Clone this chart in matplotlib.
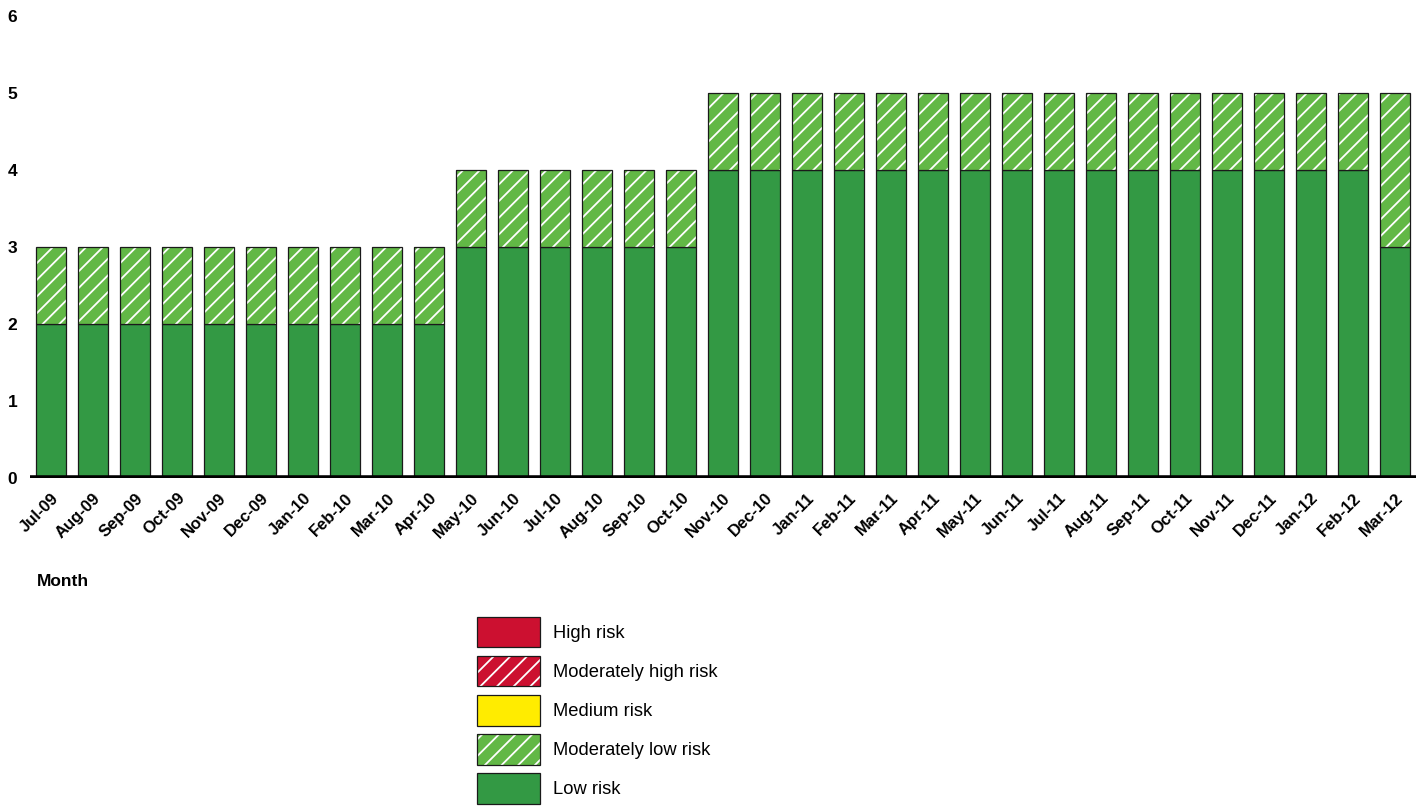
import matplotlib
matplotlib.use("Agg")
import matplotlib.pyplot as plt
from matplotlib.patches import Patch

# month labels, Jul-09 .. Mar-12
months = ["Jul-09", "Aug-09", "Sep-09", "Oct-09", "Nov-09", "Dec-09",
          "Jan-10", "Feb-10", "Mar-10", "Apr-10", "May-10", "Jun-10",
          "Jul-10", "Aug-10", "Sep-10", "Oct-10", "Nov-10", "Dec-10",
          "Jan-11", "Feb-11", "Mar-11", "Apr-11", "May-11", "Jun-11",
          "Jul-11", "Aug-11", "Sep-11", "Oct-11", "Nov-11", "Dec-11",
          "Jan-12", "Feb-12", "Mar-12"]

low_risk = [2, 2, 2, 2, 2, 2, 2, 2, 2, 2,
            3, 3, 3, 3, 3, 3,
            4, 4, 4, 4, 4, 4, 4, 4, 4, 4, 4, 4, 4, 4, 4, 4,
            3]
mod_low_risk = [1, 1, 1, 1, 1, 1, 1, 1, 1, 1,
                1, 1, 1, 1, 1, 1,
                1, 1, 1, 1, 1, 1, 1, 1, 1, 1, 1, 1, 1, 1, 1, 1,
                2]

legend_labels = ["High risk", "Moderately high risk", "Medium risk",
                 "Moderately low risk", "Low risk"]

RED = "#cc1030"
YELLOW = "#ffec00"
LIGHT_GREEN = "#62b846"
GREEN = "#339944"
EDGE = "#1a1a1a"

plt.rcParams["font.family"] = ["Liberation Sans", "DejaVu Sans"]
plt.rcParams["hatch.linewidth"] = 1.3

fig = plt.figure(figsize=(14.2, 8.06), dpi=100)
ax = fig.add_axes([0.0211, 0.407, 0.976, 0.573])

x = list(range(len(months)))
w = 0.71

ax.bar(x, low_risk, width=w, color=GREEN, edgecolor=EDGE, linewidth=0.9, zorder=2)
# hatched segment: white hatch first, then a dark outline on top
ax.bar(x, mod_low_risk, bottom=low_risk, width=w, color=LIGHT_GREEN,
       edgecolor="white", hatch="//", linewidth=0, zorder=2)
ax.bar(x, mod_low_risk, bottom=low_risk, width=w, fill=False,
       edgecolor=EDGE, linewidth=0.9, zorder=3)

ax.axhline(0, color="black", linewidth=4, zorder=4)

ax.set_xlim(-0.5, len(months) - 0.5)
ax.set_ylim(0, 6)
ax.set_yticks(range(7))
ax.set_yticklabels([str(v) for v in range(7)], fontweight="bold", fontsize=12.5)
ax.set_xticks(x)
ax.set_xticklabels(months, rotation=45, ha="right", rotation_mode="anchor",
                   fontweight="bold", fontsize=12)
ax.tick_params(axis="both", length=0)
ax.tick_params(axis="y", pad=9)
ax.tick_params(axis="x", pad=9)
for s in ax.spines.values():
    s.set_visible(False)

fig.text(0.026, 0.279, "Month", fontweight="bold", fontsize=12.5, va="center")


def outline():
    return Patch(fill=False, edgecolor=EDGE, linewidth=0.9)


handles = [
    Patch(facecolor=RED, edgecolor=EDGE, linewidth=0.9),
    (Patch(facecolor=RED, edgecolor="white", hatch="//", linewidth=0), outline()),
    Patch(facecolor=YELLOW, edgecolor=EDGE, linewidth=0.9),
    (Patch(facecolor=LIGHT_GREEN, edgecolor="white", hatch="//", linewidth=0), outline()),
    Patch(facecolor=GREEN, edgecolor=EDGE, linewidth=0.9),
]
fig.legend(handles, legend_labels, loc="upper left",
           bbox_to_anchor=(0.336, 0.235), frameon=False, fontsize=13.2,
           handlelength=3.45, handleheight=2.2, handletextpad=0.7,
           labelspacing=0.46, borderaxespad=0, borderpad=0)

fig.savefig("out.png", dpi=100)
